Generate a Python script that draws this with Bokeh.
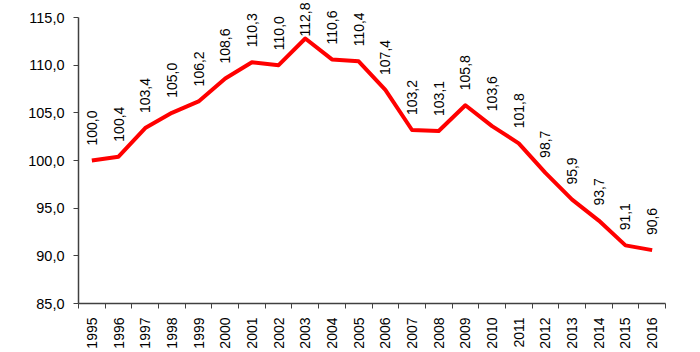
import math
from bokeh.plotting import figure
from bokeh.models import ColumnDataSource, FixedTicker, LabelSet, Range1d
from bokeh.core.properties import value
from bokeh.embed import file_html
from bokeh.resources import INLINE

years = [str(y) for y in range(1995, 2017)]
values = [100.0, 100.4, 103.4, 105.0, 106.2, 108.6, 110.3, 110.0, 112.8, 110.6, 110.4,
          107.4, 103.2, 103.1, 105.8, 103.6, 101.8, 98.7, 95.9, 93.7, 91.1, 90.6]
y_ticks = [85, 90, 95, 100, 105, 110, 115]

FONT = "Liberation Sans"
W, H = 700, 352
LEFT, RIGHT, TOP, BOTTOM = 78, 35, 17, 49
Y0, Y1 = 85, 115

xs = list(range(len(years)))
labels = [f"{v:.1f}".replace(".", ",") for v in values]

frame_h = H - TOP - BOTTOM
scale = frame_h / (Y1 - Y0)
y_top = Y1 + TOP / scale  # extend frame to canvas top so labels are not clipped

text_len = 35
offs = []
for v in values:
    py = TOP + (Y1 - v) * scale
    offs.append(min(15, py - text_len - 1))

src = ColumnDataSource(dict(x=xs, y=values, lab=labels, off=offs))

p = figure(width=W, height=H, output_backend="svg", toolbar_location=None,
           x_range=Range1d(-0.5, len(years) - 0.5), y_range=Range1d(Y0, y_top),
           min_border_left=LEFT, min_border_right=RIGHT, min_border_top=0,
           min_border_bottom=BOTTOM)
p.outline_line_color = None
p.xgrid.grid_line_color = None
p.ygrid.grid_line_color = None
p.background_fill_color = "white"
p.border_fill_color = "white"

p.line("x", "y", source=src, line_color="#FF0000", line_width=4, line_join="round")

p.add_layout(LabelSet(x="x", y="y", text="lab", source=src, angle=math.pi / 2,
                      text_align="left", text_baseline="middle", y_offset="off",
                      text_font=value(FONT), text_font_size="14px", text_color="#000000"))

# x axis
xa = p.xaxis[0]
xa.ticker = FixedTicker(ticks=xs, minor_ticks=[i - 0.5 for i in range(len(years) + 1)])
xa.major_label_overrides = {i: y for i, y in enumerate(years)}
xa.major_label_orientation = math.pi / 2
xa.major_tick_line_color = None
xa.major_tick_out = 0
xa.major_tick_in = 0
xa.minor_tick_out = 5
xa.minor_tick_in = 0
xa.minor_tick_line_color = "#404040"
xa.axis_line_color = "#404040"
xa.axis_line_width = 1.5
xa.major_label_standoff = 9
xa.major_label_text_font = FONT
xa.major_label_text_font_size = "14px"
xa.major_label_text_color = "#000000"

# y axis
ya = p.yaxis[0]
ya.ticker = FixedTicker(ticks=y_ticks, minor_ticks=[])
ya.bounds = (Y0, Y1)
ya.major_label_overrides = {t: f"{t:.1f}".replace(".", ",") for t in y_ticks}
ya.major_tick_out = 5
ya.major_tick_in = 0
ya.major_tick_line_color = "#404040"
ya.axis_line_color = "#404040"
ya.axis_line_width = 1.5
ya.major_label_standoff = 9
ya.major_label_text_font = FONT
ya.major_label_text_font_size = "14.5px"
ya.major_label_text_color = "#000000"

open("out.html", "w").write(file_html(p, INLINE))
